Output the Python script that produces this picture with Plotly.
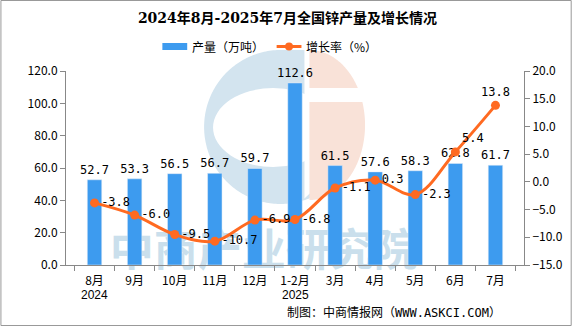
import plotly.graph_objects as go
import math

categories = ["8月", "9月", "10月", "11月", "12月", "1-2月", "3月", "4月", "5月", "6月", "7月"]
year_labels = {"8月": "2024", "1-2月": "2025"}
production = [52.7, 53.3, 56.5, 56.7, 59.7, 112.6, 61.5, 57.6, 58.3, 62.8, 61.7]
growth = [-3.8, -6.0, -9.5, -10.7, -6.9, -6.8, -1.1, 0.3, -2.3, 5.4, 13.8]
growth_label_pos = ["middle right"] * 9 + ["top right", "top center"]

W, H = 575, 326
L, R, T, B = 66, 527, 71, 265
pw, ph = R - L, B - T

def px(x):
    return (x - L) / pw

def py(y):
    return (B - y) / ph

BAR = "#3D9BEF"
LINE = "#FF6A21"
mono = "'DejaVu Sans Mono', 'Noto Sans CJK SC', monospace"
sans = "'Noto Sans CJK SC', sans-serif"

fig = go.Figure()
fig.add_trace(go.Bar(
    x=categories, y=production, name="产量（万吨）",
    marker_color=BAR, width=0.36,
    text=[f"{v:.1f}" for v in production], textposition="outside",
    constraintext="none",
    textfont=dict(size=12, color="#000", family=mono), cliponaxis=False,
    showlegend=False,
))
fig.add_trace(go.Scatter(
    x=categories, y=growth, name="增长率（%）", yaxis="y2",
    mode="lines+markers+text",
    line=dict(color=LINE, width=3, shape="spline", smoothing=1.0),
    marker=dict(size=9, color=LINE),
    text=[f"{v:.1f}" for v in growth], textposition=growth_label_pos,
    textfont=dict(size=12, color="#000", family=mono), cliponaxis=False,
    showlegend=False,
))

shapes = []
# watermark logo (light, below traces)
BLUE_W = "#D3E4EF"
PINK_W = "#F9E2D8"
cx, cy, r = 282, 127, 77
pts = []
for i in range(0, 181):
    a = math.radians(90 + i * (250 / 180))
    pts.append((cx + r * math.cos(a), cy - r * math.sin(a)))
path = "M " + " L ".join(f"{px(x):.4f},{py(y):.4f}" for x, y in pts)
path += f" L {px(306):.4f},{py(cy + r * 0.93):.4f} L {px(306):.4f},{py(cy - r):.4f} Z"
shapes.append(dict(type="path", xref="paper", yref="paper", path=path,
                   fillcolor=BLUE_W, line=dict(width=0), layer="below"))
shapes.append(dict(type="circle", xref="paper", yref="paper", x0=px(214), x1=px(335), y0=py(167), y1=py(88),
                   fillcolor="white", line=dict(width=0), layer="below"))
pts = []
for i in range(0, 181):
    a = math.radians(90 - i)
    pts.append((311 + 56 * math.cos(a), 125 - 75 * math.sin(a)))
path = "M " + " L ".join(f"{px(x):.4f},{py(y):.4f}" for x, y in pts) + " Z"
shapes.append(dict(type="path", xref="paper", yref="paper", path=path,
                   fillcolor=PINK_W, line=dict(width=0), layer="below"))
shapes.append(dict(type="rect", xref="paper", yref="paper", x0=px(309), x1=px(370), y0=py(102), y1=py(88),
                   fillcolor="white", line=dict(width=0), layer="below"))
shapes.append(dict(type="rect", xref="paper", yref="paper", x0=px(100), x1=px(430), y0=py(275), y1=py(232),
                   fillcolor="rgba(0,0,0,0)", line=dict(width=0), layer="below",
                   label=dict(text="中商产业研究院", textposition="middle center",
                              font=dict(size=44, color="#CADFEC", family=sans, weight="bold"))))

# custom legend
shapes.append(dict(type="rect", xref="paper", yref="paper", x0=px(163), x1=px(188), y0=py(50), y1=py(43),
                   fillcolor=BAR, line=dict(width=0)))
shapes.append(dict(type="line", xref="paper", yref="paper", x0=px(278), x1=px(303), y0=py(46.5), y1=py(46.5),
                   line=dict(color=LINE, width=3)))
shapes.append(dict(type="circle", xref="paper", yref="paper", x0=px(286.5), x1=px(294.5), y0=py(50.5), y1=py(42.5),
                   fillcolor=LINE, line=dict(width=0)))
# border
shapes.append(dict(type="rect", xref="paper", yref="paper",
                   x0=px(0.5), x1=px(574.5), y0=py(325.5), y1=py(0.5),
                   line=dict(color="#999", width=1), fillcolor="rgba(0,0,0,0)", layer="below"))

annotations = [
    dict(text="产量（万吨）", x=px(191), y=py(46.5), xanchor="left", yanchor="middle",
         font=dict(size=12, family=sans), xref="paper", yref="paper"),
    dict(text="增长率（%）", x=px(306), y=py(46.5), xanchor="left", yanchor="middle",
         font=dict(size=12, family=sans), xref="paper", yref="paper"),
    dict(text="制图：中商情报网（WWW.ASKCI.COM）", x=px(506), y=py(312), xanchor="right", yanchor="middle",
         font=dict(size=12, family=mono), xref="paper", yref="paper"),
]
for cat, yr in year_labels.items():
    annotations.append(dict(text=yr, x=cat, xref="x", y=py(294.5), yref="paper",
                            xanchor="center", yanchor="middle",
                            font=dict(size=12, family="'Liberation Sans', sans-serif")))
for a in annotations:
    a.update(showarrow=False)

fig.update_layout(
    width=W, height=H,
    margin=dict(l=L, r=W - R, t=T, b=H - B),
    paper_bgcolor="white", plot_bgcolor="rgba(0,0,0,0)",
    font=dict(family=sans, size=12, color="#000"),
    title=dict(text="<b>2024年8月-2025年7月全国锌产量及增长情况</b>", x=0.5, xanchor="center",
               y=1 - 18 / H, yanchor="middle", font=dict(size=14, color="#000", family="'DejaVu Serif', 'Noto Sans CJK SC', serif")),
    showlegend=False,
    shapes=shapes,
    annotations=annotations,
    xaxis=dict(showline=True, linecolor="#888", linewidth=1, ticks="outside", tickson="boundaries",
               ticklen=5, tickcolor="#888", showgrid=False, tickfont=dict(size=12), ticklabelstandoff=5),
    yaxis=dict(range=[0, 120], dtick=20, tickformat=".1f", showline=True, linecolor="#888",
               ticks="outside", ticklen=5, tickcolor="#888", showgrid=False, zeroline=False,
               tickfont=dict(size=12)),
    yaxis2=dict(range=[-15, 20], dtick=5, tickformat=".1f", overlaying="y", side="right",
                showline=True, linecolor="#888", ticks="outside", ticklen=5, tickcolor="#888",
                showgrid=False, zeroline=False, tickfont=dict(size=12)),
)

fig.write_html("out.html")
